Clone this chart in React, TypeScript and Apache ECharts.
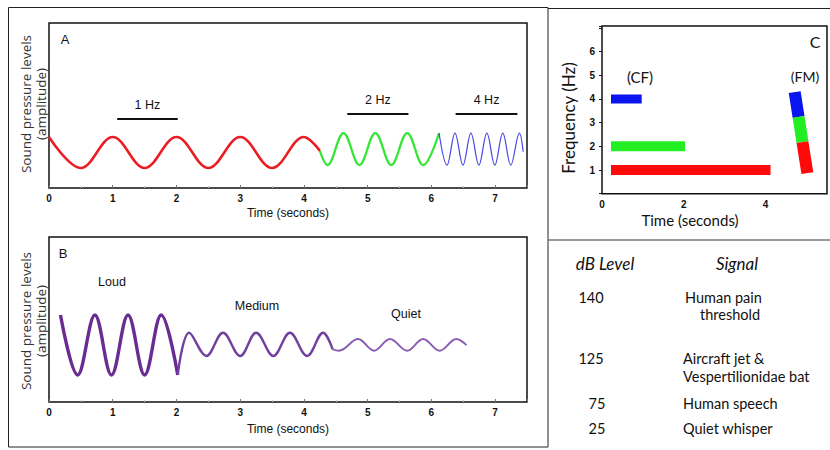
import React, { useEffect, useRef } from "react";
import * as echarts from "echarts";

// ---------- DATA ----------
// Panel A: extrema / crossing points of each tone, [time (s), level]
const redWave = [[0, 3.09], [0.5, 1.21], [1, 3.09], [1.5, 1.21], [2, 3.09], [2.5, 1.21], [3, 3.09], [3.5, 1.21], [4, 3.09], [4.25, 2.25]];
const greenWave = [[4.25, 2.25], [4.37, 1.39], [4.62, 3.33], [4.87, 1.39], [5.12, 3.33], [5.37, 1.39], [5.62, 3.33], [5.87, 1.39], [6.12, 3.33]];
const blueWave = [[6.12, 3.33], [6.245, 1.39], [6.37, 3.33], [6.495, 1.39], [6.62, 3.33], [6.745, 1.39], [6.87, 3.33], [6.995, 1.39], [7.12, 3.33], [7.245, 1.39], [7.38, 3.33], [7.44, 2.2]];
const hzLabels = ["1 Hz", "2 Hz", "4 Hz"];
const hzBarStart = [1.07, 4.68, 6.38];
const hzBarEnd = [2.02, 5.64, 7.35];
const hzBarLevel = [4.18, 4.48, 4.48];

// Panel B: extrema of the loud / medium / quiet tones
const loudWave = [[0.18, 5.27], [0.45, 1.64], [0.72, 5.27], [0.98, 1.64], [1.24, 5.27], [1.5, 1.64], [1.76, 5.27], [2.02, 1.64]];
const mediumWave = [[2.02, 1.64], [2.2, 4.2], [2.47, 2.79], [2.73, 4.2], [3.0, 2.79], [3.25, 4.2], [3.52, 2.79], [3.78, 4.2], [4.05, 2.79], [4.3, 4.2], [4.45, 3.19]];
const quietWave = [[4.45, 3.19], [4.55, 3.11], [4.85, 3.82], [5.1, 3.11], [5.35, 3.82], [5.62, 3.11], [5.87, 3.82], [6.13, 3.11], [6.39, 3.82], [6.55, 3.45]];
const levelLabels = ["Loud", "Medium", "Quiet"];

// Panel C: constant-frequency bars [time, Hz] and the FM sweep
const cfBlue = [[0.22, 4], [0.97, 4]];
const cfGreen = [[0.22, 2], [2.03, 2]];
const cfRed = [[0.22, 1], [4.12, 1]];
const fmBlue = [[4.71, 4.29], [4.805, 3.24]];
const fmGreen = [[4.805, 3.24], [4.9, 2.18]];
const fmRed = [[4.9, 2.18], [5.02, 0.87]];

// Table
const tableHeaders = ["dB Level", "Signal"];
const dbLevels = ["140", "125", "75", "25"];
const signals = [["Human pain", "threshold"], ["Aircraft jet &", "Vespertilionidae bat"], ["Human speech"], ["Quiet whisper"]];

// ---------- LAYOUT ----------
const ARIAL = "'Liberation Sans', Arial, sans-serif";
const OPEN = "'Open Sans', 'Liberation Sans', sans-serif";
const GILL = "Lato, 'Open Sans', sans-serif";

export default function App() {
  const ref = useRef<HTMLDivElement>(null);

  useEffect(() => {
    if (!ref.current) return;
    const chart = echarts.init(ref.current, undefined, { renderer: "svg" });

    const abX = (gridIndex: number, gap: number) => ({
      gridIndex,
      type: "value",
      min: 0,
      max: 7.5,
      interval: 1,
      axisLine: { show: false },
      axisTick: { show: true, inside: true, length: 3, lineStyle: { color: "#777" } },
      minorTick: { show: true, splitNumber: 2, length: 2, lineStyle: { color: "#bbb" } },
      splitLine: { show: false },
      axisLabel: {
        formatter: (v: number) => (Number.isInteger(v) ? String(v) : ""),
        fontSize: 10, fontWeight: "bold", color: "#111", margin: 5, fontFamily: ARIAL,
      },
      name: "Time (seconds)",
      nameLocation: "middle",
      nameGap: gap,
      nameTextStyle: { fontSize: 12, color: "#111", fontFamily: ARIAL },
    });
    const abY = (gridIndex: number) => ({
      gridIndex, type: "value", min: 0, max: 10,
      axisLine: { show: false }, axisTick: { show: false }, axisLabel: { show: false }, splitLine: { show: false },
    });

    const wave = (data: number[][], color: string, width: number, xi: number) => ({
      type: "line", xAxisIndex: xi, yAxisIndex: xi, data, smooth: 0.37, symbol: "none",
      lineStyle: { color, width }, silent: true,
    });
    const bar = (data: number[][], color: string, width: number) => ({
      type: "line", xAxisIndex: 2, yAxisIndex: 2, data, symbol: "none",
      lineStyle: { color, width, cap: "butt" }, silent: true,
    });

    const hzMarks = hzLabels.map((name, i) => [
      { coord: [hzBarStart[i], hzBarLevel[i]], name },
      { coord: [hzBarEnd[i], hzBarLevel[i]] },
    ]);

    const txt = (text: string, x: number, y: number, size: number, extra: any = {}, family = ARIAL) => ({
      type: "text", x, y, silent: true, ...(extra.rotation ? { rotation: extra.rotation } : {}),
      style: {
        text, fontSize: size, fontFamily: family, fill: extra.fill || "#111",
        fontStyle: extra.fontStyle || "normal", fontWeight: extra.fontWeight || "normal",
        align: extra.align || "center", verticalAlign: "middle", lineHeight: extra.lineHeight || size * 1.2,
      },
    });

    const levelPos = [[112, 282], [257, 306], [406, 314]];
    const dbPos = [[591, 297], [591, 358], [597, 403], [597, 428]];
    const sigPos = [[[685, 297], [700, 314]], [[683, 358], [683, 376]], [[683, 403]], [[683, 428]]];

    const graphics: any[] = [
      { type: "rect", silent: true, shape: { x: 8.5, y: 7.5, width: 539.5, height: 439.5 }, style: { fill: "none", stroke: "#222", lineWidth: 1 } },
      { type: "line", silent: true, shape: { x1: 548, y1: 8.5, x2: 830, y2: 8.5 }, style: { stroke: "#222", lineWidth: 1 } },
      { type: "line", silent: true, shape: { x1: 548, y1: 240, x2: 830, y2: 240 }, style: { stroke: "#777", lineWidth: 1.5 } },
      txt("A", 65, 39, 13),
      txt("B", 63, 253, 13),
      txt("Sound pressure levels\n(amplitude)", 33.5, 104, 13.5, { rotation: Math.PI / 2, fill: "#333", lineHeight: 15 }, OPEN),
      txt("Sound pressure levels\n(amplitude)", 33.5, 321, 13.5, { rotation: Math.PI / 2, fill: "#333", lineHeight: 15 }, OPEN),
      ...levelLabels.map((t, i) => txt(t, levelPos[i][0], levelPos[i][1], 12.5)),
      txt("C", 815, 41, 16, {}, GILL),
      txt("(CF)", 640, 77, 15, {}, GILL),
      txt("(FM)", 805, 76, 14, {}, GILL),
      txt("Frequency (Hz)", 568, 118, 17, { rotation: Math.PI / 2 }, GILL),
      txt("Time (seconds)", 690, 220, 15, {}, GILL),
      txt(tableHeaders[0], 605, 263, 17, { fontStyle: "italic" }, GILL),
      txt(tableHeaders[1], 737, 263, 17, { fontStyle: "italic" }, GILL),
      ...dbLevels.map((t, i) => txt(t, dbPos[i][0], dbPos[i][1], 14.5, {}, GILL)),
      ...signals.flatMap((lines, i) => lines.map((t, j) => txt(t, sigPos[i][j][0], sigPos[i][j][1], 14.5, { align: "left" }, GILL))),
    ];

    chart.setOption({
      animation: false,
      backgroundColor: "#fff",
      grid: [
        { left: 49, top: 23, width: 478, height: 165, show: true, borderColor: "#111", borderWidth: 1.5 },
        { left: 49, top: 237, width: 478, height: 165, show: true, borderColor: "#111", borderWidth: 1.5 },
        { left: 602, top: 26, width: 238, height: 167.7, show: true, borderColor: "#111", borderWidth: 1.5 },
      ],
      xAxis: [
        abX(0, 19),
        abX(1, 21),
        {
          gridIndex: 2, type: "value", min: 0, max: 5.5, interval: 2,
          axisLine: { show: false }, axisTick: { show: false }, splitLine: { show: false },
          axisLabel: {
            formatter: (v: number) => (v % 2 === 0 ? String(v) : ""),
            fontSize: 10, fontWeight: "bold", color: "#111", margin: 6, fontFamily: ARIAL,
          },
        },
      ],
      yAxis: [
        abY(0),
        abY(1),
        {
          gridIndex: 2, type: "value", min: 0, max: 7.08, interval: 1,
          axisLine: { show: false }, splitLine: { show: false },
          axisTick: { show: true, inside: false, length: 3, lineStyle: { color: "#111" } },
          axisLabel: {
            formatter: (v: number) => (v >= 1 && v <= 6 ? String(v) : ""),
            fontSize: 10, fontWeight: "bold", color: "#111", margin: 7, fontFamily: ARIAL,
          },
        },
      ],
      series: [
        {
          ...wave(redWave, "#ec1c24", 2.6, 0),
          markLine: {
            silent: true, symbol: ["none", "none"], animation: false,
            lineStyle: { color: "#111", width: 2, type: "solid" },
            label: { show: true, formatter: "{b}", position: "insideMiddleTop", distance: 8, fontSize: 12.5, color: "#111", fontFamily: ARIAL },
            data: hzMarks,
          },
        },
        wave(greenWave, "#33e633", 2.2, 0),
        wave(blueWave, "#4646e6", 1.2, 0),
        wave(loudWave, "#6a2c92", 3.4, 1),
        wave(mediumWave, "#7140a0", 2.4, 1),
        wave(quietWave, "#8a5cb2", 1.9, 1),
        bar(cfBlue, "#0a14ee", 9),
        bar(cfGreen, "#22ee22", 10),
        bar(cfRed, "#ff0a0a", 10),
        bar(fmBlue, "#0a14ee", 12),
        bar(fmGreen, "#22ee22", 12),
        bar(fmRed, "#ff0a0a", 12),
      ],
      graphic: graphics,
    });

    return () => chart.dispose();
  }, []);

  return <div ref={ref} style={{ position: "fixed", left: 0, top: 0, width: 830, height: 450 }} />;
}
